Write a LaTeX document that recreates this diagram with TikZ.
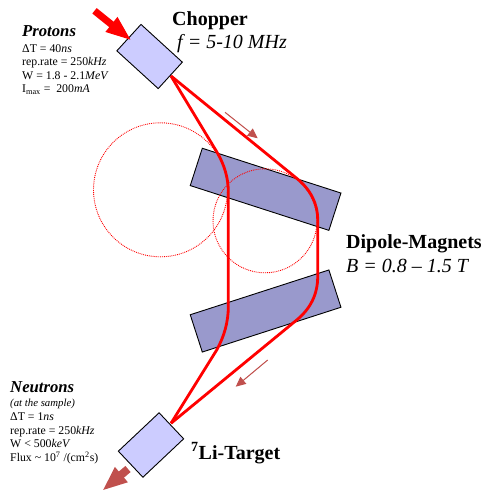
\documentclass[tikz,border=0pt]{standalone}
\usepackage{fontspec}
\setmainfont{Liberation Serif}
\usetikzlibrary{arrows.meta}
\tikzset{
  titlelabel/.style={anchor=base west, inner sep=0pt, font=\fontsize{20}{22}\selectfont},
  headlabel/.style={anchor=base west, inner sep=0pt, font=\fontsize{16.7}{18}\selectfont\bfseries\itshape},
  datalabel/.style={anchor=base west, inner sep=0pt, font=\fontsize{11.8}{13}\selectfont},
  lensbox/.style={draw=black, line width=0.9pt, fill=lensblue, inner sep=0pt, minimum width=56pt, minimum height=35.8pt},
  magnetbox/.style={draw=black, line width=0.9pt, fill=magnetblue, inner sep=0pt, minimum width=145.7pt, minimum height=39.2pt},
  fieldcircle/.style={draw=red, line width=0.9pt, densely dotted},
  beam/.style={draw=red, line width=2.8pt, line join=round},
  flowarrow/.style={draw=darkred, fill=darkred, line width=1pt, -{Triangle[length=10pt,width=9pt]}}
}
\definecolor{lensblue}{HTML}{CCCCFF}
\definecolor{magnetblue}{HTML}{9999CC}
\definecolor{darkred}{HTML}{C0504D}

\begin{document}
\begin{tikzpicture}[x=1pt,y=-1pt]
\useasboundingbox (0,0) rectangle (489,493);
% magnets and field circles
\node[magnetbox, rotate=-17.9] (magnetup) at (265.6,189.3) {};
\node[magnetbox, rotate=17.9] (magnetdown) at (265.6,311) {};
\node[fieldcircle, circle, minimum size=134pt, inner sep=0pt] (circleleft) at (160.5,189.8) {};
\node[fieldcircle, circle, minimum size=104pt, inner sep=0pt] (circleright) at (265,220.8) {};
% chopper and target
\node[lensbox, rotate=-42.4] (chopper) at (149.6,56.5) {};
\node[lensbox, rotate=43.3] (target) at (151,445) {};
% beams
\coordinate (beamstart) at (171,76);
\coordinate (beamend) at (171,423.3);
\draw[beam] (beamstart) -- (296.7,178.3) .. controls (310.7,189.7) and (317.7,203.6) .. (317.7,220)
  -- (317.7,276.7) .. controls (317.7,294) and (310.7,308.5) .. (296.7,320) -- (beamend);
\draw[beam] (beamstart) -- (216.7,151.7) .. controls (224.4,164.6) and (228.3,178) .. (228.3,191.7)
  -- (228.3,306.7) .. controls (228.3,321.6) and (224.4,336) .. (216.7,350) -- (beamend);
% in and out arrows
\coordinate (protonsin) at (94.5,10.8);
\coordinate (protonstip) at (131.7,40.7);
\coordinate (neutronsout) at (128,469);
\coordinate (neutronstip) at (102.3,490.7);
\draw[red, line width=7pt, -{Triangle[length=26pt,width=17pt]}] (protonsin) -- (protonstip);
\draw[darkred, line width=8pt, -{Triangle[length=25pt,width=18pt]}] (neutronsout) -- (neutronstip);
% direction arrows
\coordinate (flowupstart) at (225,112.3);
\coordinate (flowupend) at (257.7,138.3);
\coordinate (flowdownstart) at (267.7,360);
\coordinate (flowdownend) at (235.7,386.7);
\draw[flowarrow] (flowupstart) -- (flowupend);
\draw[flowarrow] (flowdownstart) -- (flowdownend);
% labels
\node[titlelabel, font=\fontsize{20}{22}\selectfont\bfseries] (choppername) at (172,25.7) {Chopper};
\node[titlelabel, font=\fontsize{20}{22}\selectfont\itshape] (chopperfreq) at (177,48) {f = 5-10 MHz};
\node[titlelabel, font=\fontsize{20}{22}\selectfont\bfseries] (dipolename) at (346,248.5) {Dipole-Magnets};
\node[titlelabel, font=\fontsize{20}{22}\selectfont\itshape] (dipolefield) at (346,272) {B = 0.8 -- 1.5 T};
\node[titlelabel, font=\fontsize{20}{22}\selectfont\bfseries] (targetname) at (191,459.3) {\textsuperscript{7}Li-Target};
\node[headlabel] (protonshead) at (22,36.7) {Protons};
\node[datalabel] (protonsdt) at (22,52.3) {ΔT = 40\textit{ns}};
\node[datalabel] (protonsrate) at (22,65.6) {rep.rate = 250\textit{kHz}};
\node[datalabel] (protonsw) at (22,79) {W = 1.8 - 2.1\textit{MeV}};
\node[datalabel] (protonsi) at (22,92.3) {I\textsubscript{max} =\ \ 200\textit{mA}};
\node[headlabel] (neutronshead) at (10,392.7) {Neutrons};
\node[datalabel, font=\fontsize{10.8}{12}\selectfont\itshape] (neutronsnote) at (10,406.7) {(at the sample)};
\node[datalabel] (neutronsdt) at (10,420.7) {ΔT = 1\textit{ns}};
\node[datalabel] (neutronsrate) at (10,434.7) {rep.rate = 250\textit{kHz}};
\node[datalabel] (neutronsw) at (10,447.8) {W < 500\textit{keV}};
\node[datalabel] (neutronsflux) at (10,461.7) {Flux \textasciitilde{} 10\textsuperscript{7} /(cm\textsuperscript{2}s)};
\end{tikzpicture}
\end{document}
